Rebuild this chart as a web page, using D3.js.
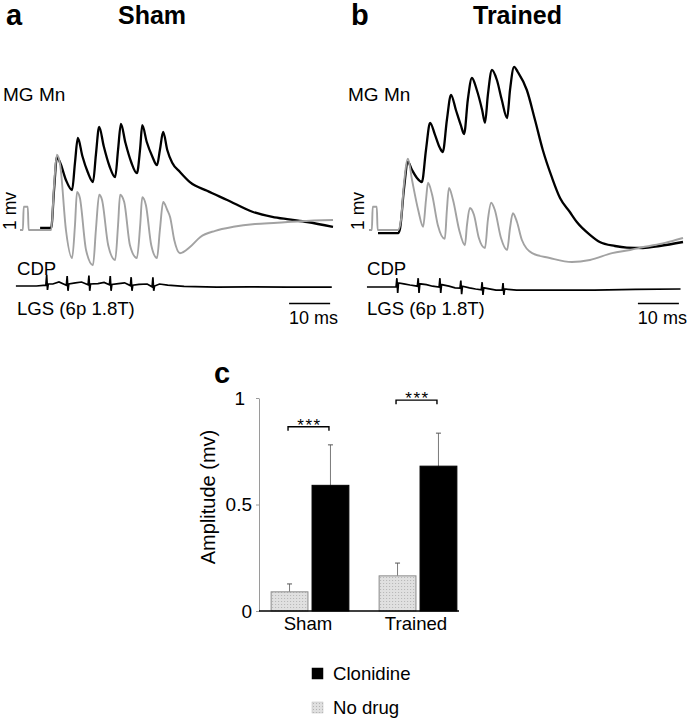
<!DOCTYPE html>
<html><head><meta charset="utf-8">
<script src="https://cdn.jsdelivr.net/npm/d3@7"></script>
<style>
body{margin:0;background:#fff}
svg text{font-family:"Liberation Sans",Arial,Helvetica,sans-serif;fill:#000}
</style>
</head><body>
<svg id="fig" width="690" height="719"></svg>
<script>
// ---------------- DATA ----------------
// Traces: [time (ms), potential (mV)]
const shamNoDrugTrace = [[0,0],[0.7,0],[0.9,0.58],[1.9,0.58],[2.1,0],[7.6,0],[8.3,1.12],[9.0,1.88],[9.8,1.62],[11.2,0],[12.7,-0.7],[13.4,0.12],[13.9,0.95],[14.6,0.8],[16.1,-0.5],[17.8,-0.88],[18.5,0],[19.3,0.88],[20.0,0.75],[21.5,-0.38],[23.2,-0.75],[23.9,0.12],[24.4,0.88],[25.4,0.7],[26.8,-0.38],[28.5,-0.7],[29.3,0.12],[29.8,0.82],[30.7,0.62],[32.0,-0.38],[33.4,-0.7],[34.1,0],[34.9,0.7],[35.9,0.5],[36.6,0.32],[37.6,-0.25],[39.0,-0.58],[41.5,-0.42],[43.9,-0.18],[47.6,-0.02],[52,0.08],[57.3,0.15],[62.7,0.18],[68.3,0.22],[76.3,0.25]];
const shamClonidineTrace = [[4.9,0.05],[7.6,0.05],[8.3,1.0],[9.0,1.82],[9.8,1.68],[11.2,1.25],[12.7,1.0],[13.4,1.68],[14.1,2.3],[15.2,1.85],[16.5,1.45],[17.8,1.2],[18.5,1.88],[19.3,2.58],[20.4,2.1],[21.8,1.6],[23.2,1.32],[23.9,2.0],[24.6,2.65],[25.7,2.18],[27.1,1.7],[28.5,1.42],[29.3,2.05],[29.8,2.62],[30.9,2.2],[32.2,1.85],[33.4,1.62],[34.1,2.0],[34.9,2.45],[35.9,2.0],[37.1,1.68],[39.0,1.45],[41.5,1.19],[45.6,0.98],[50.5,0.75],[56.8,0.45],[61.5,0.33],[65.1,0.27],[70,0.2],[76.3,0.08]];
const trainedNoDrugTrace = [[0,0],[0.7,0],[0.9,0.58],[1.9,0.58],[2.1,0],[7.1,0],[7.8,0.25],[8.5,1.12],[9.5,1.78],[10.5,1.25],[12.0,0.5],[13.2,0.08],[13.9,0.75],[14.4,1.18],[15.4,0.88],[16.8,0.12],[18.5,-0.22],[19.0,0.5],[19.5,1.05],[20.5,0.75],[22.0,0],[23.4,-0.38],[23.9,0.12],[24.6,0.55],[25.6,0.38],[26.8,-0.2],[28.3,-0.45],[29.0,0.25],[29.8,0.68],[30.7,0.5],[32.2,-0.2],[33.7,-0.5],[34.4,0.05],[35.1,0.42],[36.1,0.2],[37.3,-0.25],[39.8,-0.58],[44.1,-0.7],[49.5,-0.8],[53.9,-0.75],[59.3,-0.58],[63.7,-0.5],[67.3,-0.42],[72.2,-0.32],[76.6,-0.2]];
const trainedClonidineTrace = [[2.2,-0.08],[7.1,-0.08],[7.6,0.05],[8.5,1.0],[9.5,1.7],[10.5,1.5],[11.7,1.3],[12.9,1.2],[13.9,2.0],[14.9,2.68],[16.1,2.38],[17.3,2.05],[18.0,1.95],[19.0,2.75],[20.0,3.38],[21.2,3.0],[22.4,2.62],[23.2,2.4],[24.1,3.25],[25.1,3.8],[26.3,3.5],[27.6,3.0],[28.3,2.68],[29.0,3.38],[30.0,4.0],[31.2,3.75],[32.4,3.25],[33.7,2.8],[34.4,3.5],[35.4,4.08],[36.3,3.95],[38.5,3.5],[40.5,2.75],[42.4,2.0],[44.6,1.32],[46.6,0.8],[49.0,0.45],[50.7,0.2],[53.9,-0.12],[56.3,-0.3],[60.0,-0.4],[62.9,-0.44],[66.8,-0.45],[70.9,-0.4],[76.6,-0.3]];
const shamCdpTrace = [[-1,0],[4,0],[6.3,0.02],[6.5,0.28],[6.7,-0.1],[6.9,0.05],[8,0.05],[9.5,0.1],[11.3,0.02],[11.5,0.25],[11.7,-0.12],[11.9,0.05],[13.5,0.08],[15,0.1],[16.6,0.03],[16.8,0.26],[17.0,-0.12],[17.2,0.05],[19,0.06],[20.5,0.09],[21.8,0.03],[22.0,0.25],[22.2,-0.12],[22.4,0.04],[24,0.06],[25.5,0.08],[26.9,0.01],[27.1,0.22],[27.3,-0.12],[27.5,0.02],[29,0.04],[31,0.05],[32.2,-0.02],[32.4,0.22],[32.6,-0.12],[32.8,0],[34,0.05],[36,0.02],[40,-0.01],[48,-0.03],[56,-0.02],[65,-0.03],[76,-0.03]];
const trainedCdpTrace = [[-0.5,0],[5,0],[6.6,0],[6.8,0.22],[7.0,-0.15],[7.2,0.1],[8.5,0.08],[10,0.05],[11.8,0.02],[12.0,0.22],[12.2,-0.15],[12.4,0.08],[14,0.06],[15.5,0.02],[17.1,0],[17.3,0.22],[17.5,-0.15],[17.7,0.06],[19.5,0.02],[21,-0.02],[22.2,-0.03],[22.4,0.16],[22.6,-0.18],[22.8,0.02],[24.5,-0.02],[26,-0.05],[27.4,-0.07],[27.6,0.12],[27.8,-0.2],[28.0,-0.02],[30,-0.06],[31,-0.08],[32.5,-0.08],[32.7,0.1],[32.9,-0.2],[33.1,-0.05],[36,-0.08],[45,-0.08],[55,-0.08],[65,-0.06],[76,-0.05]];
const scaleBarMs = 10;
const scaleBarEndMs = 75.6;

// Bar chart
const groups = ["Sham", "Trained"];
const conditions = ["No drug", "Clonidine"];
const amplitudeNoDrug = [0.09, 0.165];
const amplitudeClonidine = [0.59, 0.68];
const errorNoDrug = [0.037, 0.06];
const errorClonidine = [0.19, 0.155];
const yTicks = [0, 0.5, 1];
const significance = ["***", "***"];
const bracketLevels = [0.865, 0.99];

// ---------------- DRAW ----------------
const svg = d3.select("#fig");
const defs = svg.append("defs");
const pat = defs.append("pattern").attr("id","stip").attr("width",3).attr("height",3).attr("patternUnits","userSpaceOnUse");
pat.append("rect").attr("width",3).attr("height",3).attr("fill","#e0e0e0");
pat.append("rect").attr("x",1).attr("y",1).attr("width",1).attr("height",1).attr("fill","#b4b4b4");

const GRAY = "#a2a2a2";
const FS = 18.6;

function panel(o) {
  const g = svg.append("g");
  const x = d3.scaleLinear().domain(o.xDomain).range(o.xRange);
  const y = d3.scaleLinear().domain([0, 1]).range([230, 190]);
  const yc = d3.scaleLinear().domain([0, 1]).range([o.cdpBase, o.cdpBase - 40]);
  const line = d3.line().x(d => x(d[0])).y(d => y(d[1])).curve(d3.curveMonotoneX);
  const lineC = d3.line().x(d => x(d[0])).y(d => yc(d[1]));
  g.append("path").attr("d", line(o.clon)).attr("fill","none").attr("stroke","#000").attr("stroke-width",2.3).attr("stroke-linejoin","round");
  g.append("path").attr("d", line(o.nod)).attr("fill","none").attr("stroke",GRAY).attr("stroke-width",1.9).attr("stroke-linejoin","round");
  g.append("path").attr("d", lineC(o.cdp)).attr("fill","none").attr("stroke","#000").attr("stroke-width",1.7);
  // scale bar
  const xe = scaleBarEndMs;
  g.append("line").attr("x1", x(xe - scaleBarMs)).attr("x2", x(xe)).attr("y1",303.5).attr("y2",303.5).attr("stroke","#000").attr("stroke-width",1.3);
  g.append("text").attr("x", x(xe) + 8).attr("y",324).attr("text-anchor","end").attr("font-size",18).text(scaleBarMs + " ms");
  // texts
  g.append("text").attr("x",o.lx).attr("y",25).attr("font-size",29).attr("font-weight","bold").text(o.letter);
  g.append("text").attr("x",o.tx).attr("y",24).attr("font-size",25).attr("font-weight","bold").text(o.title);
  g.append("text").attr("x",o.mx).attr("y",101).attr("font-size",19).text("MG Mn");
  g.append("text").attr("transform",`translate(${o.vx},211) rotate(-90)`).attr("text-anchor","middle").attr("font-size",17.5).text("1 mv");
  g.append("text").attr("x",o.cx).attr("y",274.5).attr("font-size",FS).text("CDP");
  g.append("text").attr("x",o.cx).attr("y",314.5).attr("font-size",FS).text("LGS (6p 1.8T)");
}

panel({xDomain:[0,76.3], xRange:[20,333], clon:shamClonidineTrace, nod:shamNoDrugTrace, cdp:shamCdpTrace, cdpBase:286,
  letter:"a", lx:6, title:"Sham", tx:118, mx:3, vx:16, cx:17});
panel({xDomain:[0,76.6], xRange:[369,683], clon:trainedClonidineTrace, nod:trainedNoDrugTrace, cdp:trainedCdpTrace, cdpBase:287,
  letter:"b", lx:351, title:"Trained", tx:473, mx:348, vx:364, cx:367});

// ---- bar chart ----
const yb = d3.scaleLinear().domain([0, 1]).range([611, 398]);
const x0 = d3.scaleBand().domain(groups).range([256, 472]).paddingInner(0.28).paddingOuter(0.14);
const x1 = d3.scaleBand().domain(conditions).range([0, x0.bandwidth()]).paddingInner(0.1);
const bc = svg.append("g");

bc.append("text").attr("x",214).attr("y",383).attr("font-size",29).attr("font-weight","bold").text("c");

const yAxis = d3.axisLeft(yb).tickValues(yTicks).tickSize(3).tickSizeOuter(0).tickPadding(4)
  .tickFormat(d => d === 0.5 ? "0.5" : d3.format("d")(d));
const ax = bc.append("g").attr("transform","translate(259,0)").call(yAxis);
ax.select(".domain").attr("stroke","#9a9a9a").attr("stroke-width",1);
ax.selectAll(".tick line").attr("stroke","#9a9a9a");
ax.selectAll(".tick text").attr("font-size",19).attr("fill","#000").style("font-family",'"Liberation Sans",Arial,sans-serif');
ax.selectAll(".tick text").filter(d => d === 1).attr("dx", -7);

bc.append("text").attr("transform","translate(215,497) rotate(-90)").attr("text-anchor","middle").attr("font-size",20).text("Amplitude (mv)");

const rows = groups.map((gname, i) => ({
  group: gname,
  vals: [
    {cond: conditions[0], v: amplitudeNoDrug[i], e: errorNoDrug[i]},
    {cond: conditions[1], v: amplitudeClonidine[i], e: errorClonidine[i]}
  ]
}));

const gg = bc.selectAll("g.grp").data(rows).join("g").attr("class","grp")
  .attr("transform", d => `translate(${x0(d.group)},0)`);
// error bars
gg.selectAll("line.err").data(d => d.vals).join("line").attr("class","err")
  .attr("x1", d => x1(d.cond) + x1.bandwidth()/2).attr("x2", d => x1(d.cond) + x1.bandwidth()/2)
  .attr("y1", d => yb(d.v)).attr("y2", d => yb(d.v + d.e)).attr("stroke","#7a7a7a").attr("stroke-width",1);
gg.selectAll("line.cap").data(d => d.vals).join("line").attr("class","cap")
  .attr("x1", d => x1(d.cond) + x1.bandwidth()/2 - 2.5).attr("x2", d => x1(d.cond) + x1.bandwidth()/2 + 2.5)
  .attr("y1", d => yb(d.v + d.e)).attr("y2", d => yb(d.v + d.e)).attr("stroke","#555").attr("stroke-width",1);
gg.selectAll("rect").data(d => d.vals).join("rect")
  .attr("x", d => x1(d.cond)).attr("width", x1.bandwidth())
  .attr("y", d => yb(d.v)).attr("height", d => yb(0) - yb(d.v))
  .attr("fill", d => d.cond === "Clonidine" ? "#000" : "url(#stip)")
  .attr("stroke", d => d.cond === "Clonidine" ? "#000" : "#8a8a8a").attr("stroke-width",1);

// significance brackets
gg.each(function(d, i) {
  const g = d3.select(this);
  const a = x1(conditions[0]) + x1.bandwidth()/2 - 1.5, b = x1(conditions[1]) + x1.bandwidth()/2 - 1.5;
  const yy = yb(bracketLevels[i]);
  g.append("path").attr("d", `M${a},${yy+4}V${yy}H${b}V${yy+4}`).attr("fill","none").attr("stroke","#000").attr("stroke-width",1.4);
  g.append("text").attr("x",(a+b)/2 + 1).attr("y",yy+4).attr("text-anchor","middle").attr("font-size",17).attr("letter-spacing",1.5).text(significance[i]);
});

// x baseline
bc.append("line").attr("x1",259).attr("x2",459).attr("y1",yb(0)).attr("y2",yb(0)).attr("stroke","#000").attr("stroke-width",1.6);
// group labels
bc.selectAll("text.glab").data(groups).join("text").attr("class","glab")
  .attr("x", d => x0(d) + x0.bandwidth()/2 - 2).attr("y",630).attr("text-anchor","middle").attr("font-size",FS).text(d => d);

// legend
const legend = [{name:"Clonidine", fill:"#000", y:668}, {name:"No drug", fill:"url(#stip)", y:702}];
const lg = bc.selectAll("g.leg").data(legend).join("g").attr("class","leg");
lg.append("rect").attr("x",312).attr("y",d => d.y).attr("width",11).attr("height",11).attr("fill",d => d.fill)
  .attr("stroke", d => d.name === "Clonidine" ? "#000" : "#bbb").attr("stroke-width",0.5);
lg.append("text").attr("x",333).attr("y",d => d.y + 12).attr("font-size",FS).text(d => d.name);
</script>
</body></html>
